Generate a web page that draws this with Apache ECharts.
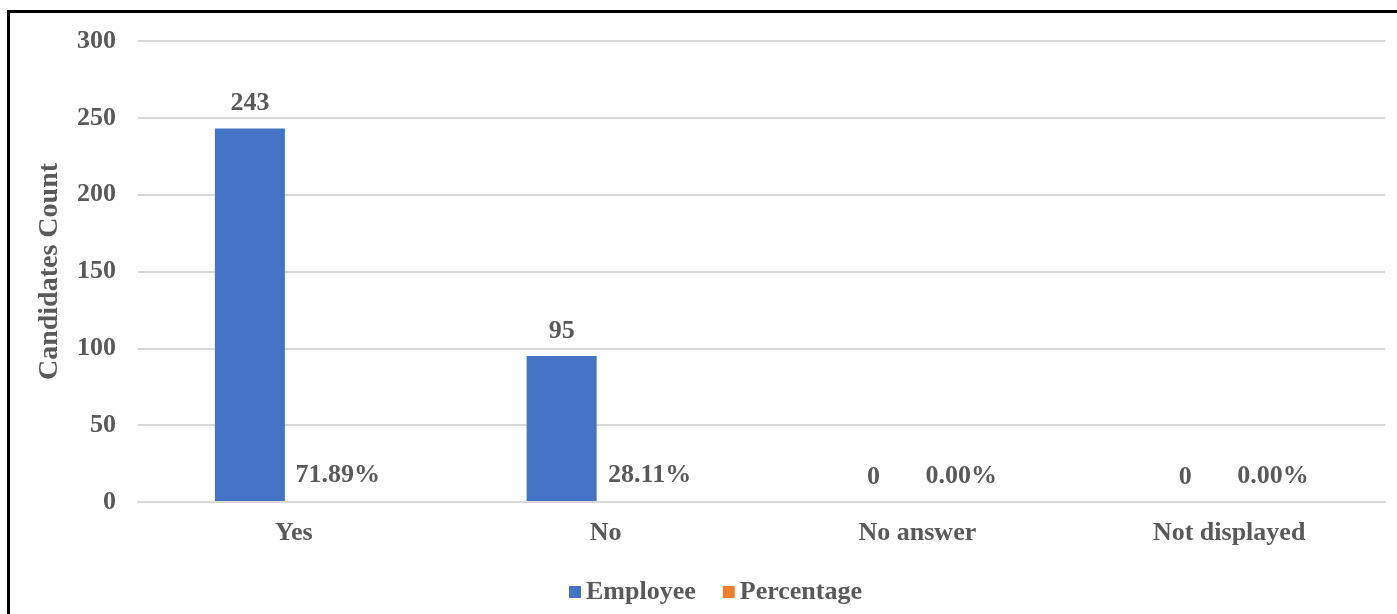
<!DOCTYPE html>
<html>
<head>
<meta charset="utf-8">
<title>Candidates Count</title>
<script src="https://cdn.jsdelivr.net/npm/echarts@6/dist/echarts.min.js"></script>
<style>
    html, body { margin: 0; padding: 0; background: #fff; overflow: hidden; }
    #chart { width: 1397px; height: 614px; }
    #frame {
        position: absolute; left: 7px; top: 10px; width: 1400px; height: 620px;
        border-left: 3px solid #000; border-top: 3px solid #000; pointer-events: none;
    }
</style>
</head>
<body>
<div id="chart"></div>
<div id="frame"></div>
<script>
    var categories = ['Yes', 'No', 'No answer', 'Not displayed'];
    var employeeValues = [243, 95, 0, 0];
    var percentageValues = [0.7189, 0.2811, 0, 0];
    var yTicks = [0, 50, 100, 150, 200, 250, 300];

    var textColor = '#595959';
    var font = {
        fontFamily: 'Liberation Serif',
        fontWeight: 'bold',
        fontSize: 26,
        color: textColor
    };

    function $extend(a, b) {
        for (var k in b) {
            a[k] = b[k];
        }
        return a;
    }

    var option = {
        backgroundColor: '#fff',
        animation: false,
        grid: {left: 138, right: 12, top: 41, bottom: 112},
        legend: {
            left: 564,
            top: 574,
            itemWidth: 12,
            itemHeight: 12,
            itemGap: 27,
            icon: 'rect',
            textStyle: font,
            data: ['Employee', 'Percentage']
        },
        xAxis: {
            type: 'category',
            data: categories,
            z: 3,
            axisLine: {lineStyle: {color: '#d9d9d9', width: 2}},
            axisTick: {show: false},
            axisLabel: $extend({margin: 18}, font)
        },
        yAxis: {
            type: 'value',
            min: yTicks[0],
            max: yTicks[yTicks.length - 1],
            interval: 50,
            name: 'Candidates Count',
            nameLocation: 'middle',
            nameGap: 74,
            nameTextStyle: $extend($extend({}, font), {fontSize: 28}),
            axisLine: {show: false},
            axisTick: {show: false},
            axisLabel: $extend({margin: 22}, font),
            splitLine: {lineStyle: {color: '#d9d9d9', width: 2}}
        },
        series: [{
            name: 'Employee',
            type: 'bar',
            data: employeeValues,
            barWidth: 70,
            barGap: '25.7%',
            itemStyle: {color: '#4472C4'},
            label: $extend({show: true, position: 'top', distance: 12}, font)
        }, {
            name: 'Percentage',
            type: 'bar',
            data: percentageValues,
            barWidth: 70,
            itemStyle: {color: '#ED7D31'},
            label: $extend({
                show: true,
                position: 'top',
                distance: 13,
                formatter: function (p) {
                    return (p.value * 100).toFixed(2) + '%';
                }
            }, font)
        }]
    };

    var chart = echarts.init(document.getElementById('chart'));
    chart.setOption(option);
</script>
</body>
</html>
